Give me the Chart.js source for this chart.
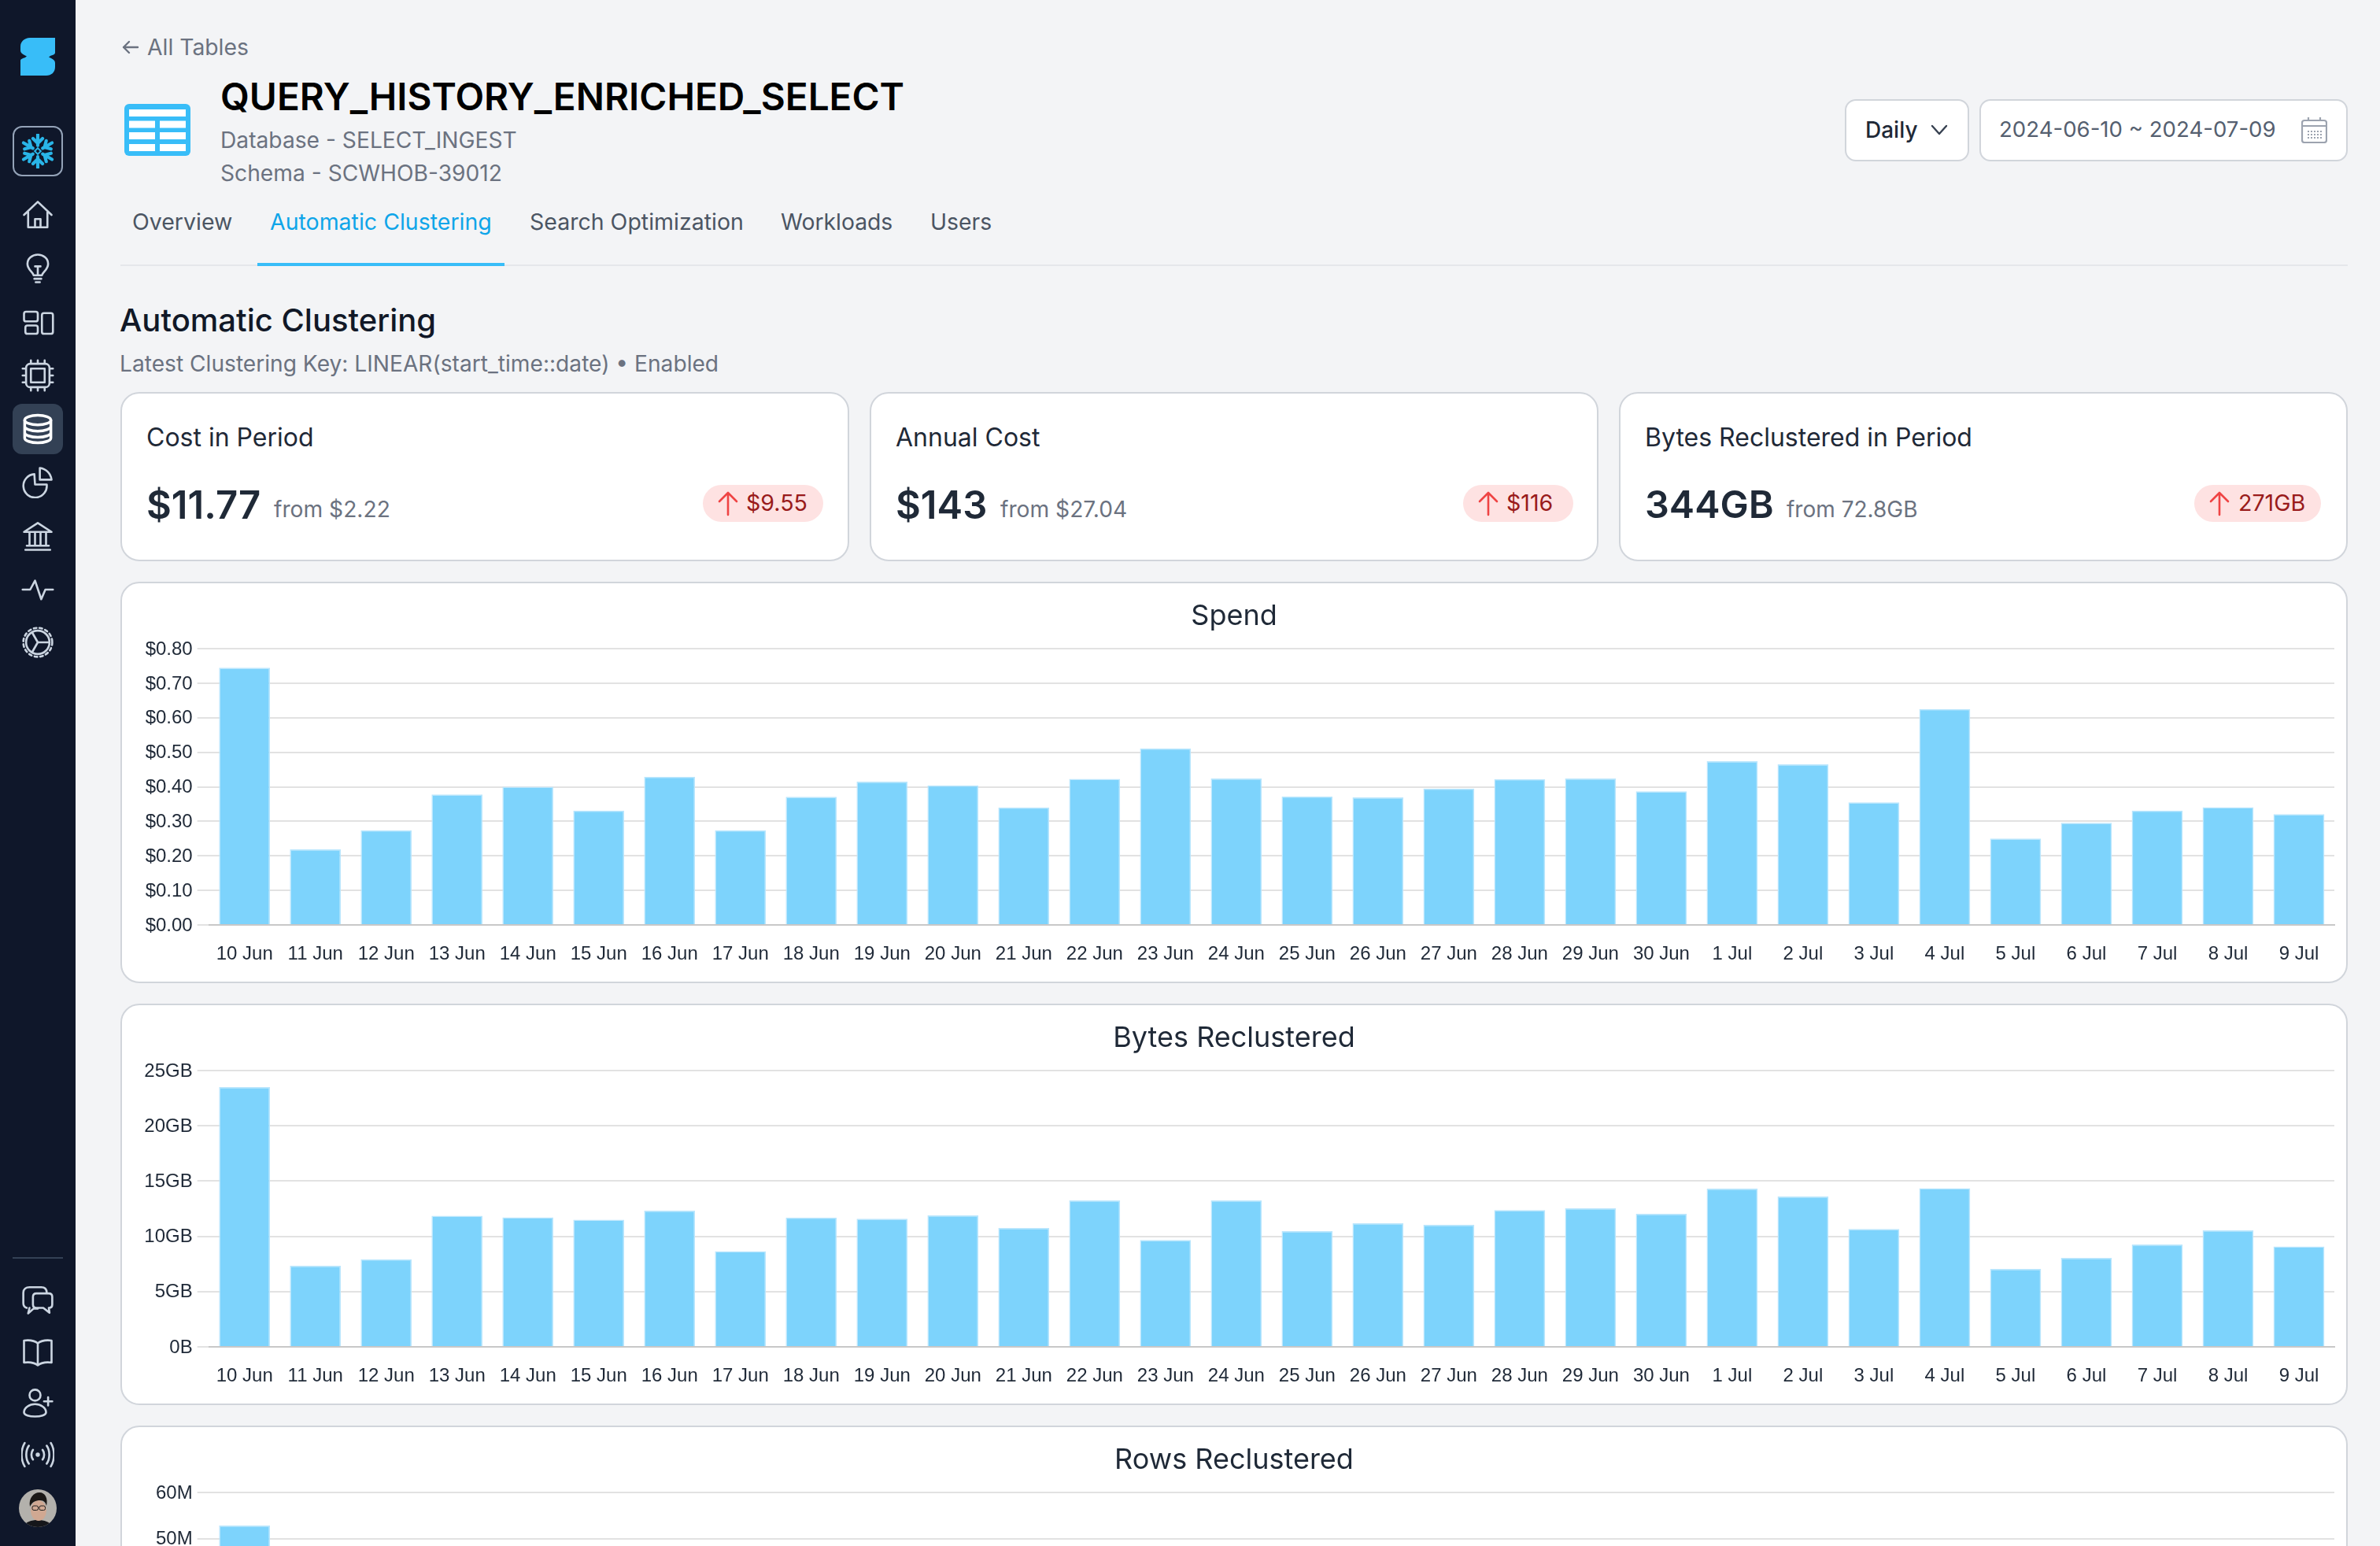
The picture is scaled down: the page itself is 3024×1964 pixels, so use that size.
<!DOCTYPE html>
<html><head><meta charset="utf-8">
<script src="https://cdn.jsdelivr.net/npm/chart.js@4"></script>
<style>
*{box-sizing:border-box}
html,body{margin:0;padding:0;width:3024px;height:1964px;overflow:hidden;background:#f3f4f6;font-family:Inter,sans-serif;-webkit-font-smoothing:antialiased}
.t{position:absolute;white-space:nowrap;line-height:1;transform:translateY(-50%)}
.box{position:absolute;background:#fff;border:2.5px solid #d1d5db}
.card{border-radius:24px}
#side{position:absolute;left:0;top:0;width:96px;height:1964px;background:#0f172a}
#side svg.i{position:absolute;left:27px;width:42px;height:42px;fill:none;stroke:#cbd5e1;stroke-width:1.5;stroke-linecap:round;stroke-linejoin:round}
.badge{position:absolute;top:616px;height:47px;background:#fee2e2;border-radius:24px}
.badge span{position:absolute;color:#991b1b;font-size:28.6px;line-height:47px;top:-1px;white-space:nowrap}
.badge svg{position:absolute;left:18px;top:7px;width:28px;height:33px;fill:none;stroke:#ef4444;stroke-width:2.6;stroke-linecap:round;stroke-linejoin:round}
canvas{position:absolute;left:153px}
</style></head><body>
<div id="side">
 <svg style="position:absolute;left:26px;top:48px" width="44" height="48" viewBox="0 0 44 48"><path fill="#38bdf8" d="M12 0H44V19C44 21 41 22 38 23L36 24.500L39 26C42 27.500 44 29 44 32V37C44 44 39 48 33 48H0V29C0 27 3 26 6 25L8 23.500L5 22C2 20.500 0 19 0 16V11C0 5 5 0 12 0Z"/></svg>
 <div style="position:absolute;left:16px;top:160px;width:64px;height:64px;border:2px solid #94a3b8;border-radius:12px"></div>
 <svg style="position:absolute;left:26px;top:170px" width="44" height="44" viewBox="-20 -20 40 40" fill="none" stroke="#29b5e8" stroke-linecap="round"><g id="arm"><path d="M0 -19V-6.500M-5.500 -14.500L0 -9L5.500 -14.500" stroke-width="3.800"/></g><use href="#arm" transform="rotate(60)"/><use href="#arm" transform="rotate(120)"/><use href="#arm" transform="rotate(180)"/><use href="#arm" transform="rotate(240)"/><use href="#arm" transform="rotate(300)"/><path d="M0 -3.500L3.500 0L0 3.500L-3.500 0Z" stroke-width="1.800"/></svg>
 <svg class="i" style="top:252px" viewBox="0 0 24 24"><path d="M2 12L12 2.500L22 12M5 10V21H19V10M10 21V15H14V21"/></svg>
 <svg class="i" style="top:320px" viewBox="0 0 24 24"><path d="M9 17C8.500 14.500 4.500 13 4.500 8.700C4.500 4.700 8 2 12 2S19.500 4.700 19.500 8.700C19.500 13 15.500 14.500 15 17ZM9.500 19.500H14.500M10.500 22H13.500M10 10.500H14M12 10.500V17"/></svg>
 <svg class="i" style="top:389px" viewBox="0 0 24 24"><rect x="2" y="4" width="10" height="7" rx="1.500"/><rect x="3" y="14" width="9" height="6" rx="1.500"/><rect x="15" y="5" width="8" height="15" rx="1.500"/></svg>
 <svg class="i" style="top:456px" viewBox="0 0 24 24"><rect x="3.500" y="3.500" width="17" height="17" rx="3"/><rect x="7" y="7" width="10" height="10"/><path d="M7 1V3M12 1V3M17 1V3M7 21V23M12 21V23M17 21V23M1 7H3M1 12H3M1 17H3M21 7H23M21 12H23M21 17H23"/></svg>
 <div style="position:absolute;left:16px;top:513px;width:64px;height:64px;background:#334155;border-radius:12px"></div>
 <svg class="i" style="top:524px;stroke:#fff;stroke-width:2" viewBox="0 0 24 24"><ellipse cx="12" cy="5.500" rx="9.500" ry="3.500"/><path d="M2.500 5.500V18.500C2.500 20.500 7 22 12 22S21.500 20.500 21.500 18.500V5.500M2.500 10C2.500 12 7 13.500 12 13.500S21.500 12 21.500 10M2.500 14.500C2.500 16.500 7 18 12 18S21.500 16.500 21.500 14.500"/></svg>
 <svg class="i" style="top:591px" viewBox="0 0 24 24"><path d="M9.500 6.500A8.500 8.500 0 1 0 18.500 14H10Z" /><path d="M13.500 2C18 2.500 21.500 6 22 10.500H13.500Z"/></svg>
 <svg class="i" style="top:660px" viewBox="0 0 24 24"><path d="M2 9L12 2.500L22 9ZM3 22H21M4 19H20M6 9.500V19M10 9.500V19M14 9.500V19M18 9.500V19"/></svg>
 <svg class="i" style="top:728px" viewBox="0 0 24 24"><path d="M1 12H6.500L10 5.500L14.500 19L17.500 12H23"/></svg>
 <svg class="i" style="top:795px" viewBox="0 0 24 24"><circle cx="12" cy="12" r="8.500"/><path d="M12 12L8 5M12 12L8 19M12 12H20.500"/><circle cx="12" cy="12" r="10.500" stroke-dasharray="2 2.200"/></svg>
 <div style="position:absolute;left:16px;top:1597px;width:64px;height:2px;background:#334155"></div>
 <svg class="i" style="top:1630px" viewBox="0 0 24 24"><path d="M6 18L5 22L9 18.500H12M4 18C2.500 17.500 1.500 16 1.500 14.500V7C1.500 4.500 3.500 3 6 3H14.500C17 3 18.500 4.500 18.500 7"/><path d="M11 7.500H20C21.500 7.500 22.500 8.500 22.500 10V15.500C22.500 17 21.500 18 20 18L20.500 21.500L16 18H11C9.500 18 8.500 17 8.500 15.500V10C8.500 8.500 9.500 7.500 11 7.500Z"/></svg>
 <svg class="i" style="top:1696px" viewBox="0 0 24 24"><path d="M12 6C9.500 4 6 3.500 2 4V20C6 19.500 9.500 20 12 22C14.500 20 18 19.500 22 20V4C18 3.500 14.500 4 12 6ZM12 6V22"/></svg>
 <svg class="i" style="top:1761px" viewBox="0 0 24 24"><circle cx="10" cy="6.500" r="4"/><path d="M2 19C2 15.500 6 13 10 13S18 15.500 18 19C18 21 14 22 10 22S2 21 2 19ZM19.500 8V14M16.500 11H22.500"/></svg>
 <svg class="i" style="top:1827px" viewBox="0 0 24 24"><circle cx="12" cy="12" r="0.800"/><path d="M8.500 8.500C7 10.500 7 13.500 8.500 15.500M15.500 8.500C17 10.500 17 13.500 15.500 15.500M5.500 5.500C3 9 3 15 5.500 18.500M18.500 5.500C21 9 21 15 18.500 18.500M2.500 3.500C-0.500 8.500 -0.500 15.500 2.500 20.500M21.500 3.500C24.500 8.500 24.500 15.500 21.500 20.500"/></svg>
 <svg style="position:absolute;left:24px;top:1892px" width="48" height="48" viewBox="0 0 48 48"><defs><clipPath id="av"><circle cx="24" cy="24" r="24"/></clipPath></defs><g clip-path="url(#av)"><rect width="48" height="48" fill="#b3b1ac"/><path d="M6 48C8 41 16 39 24 39S40 41 42 48Z" fill="#15161a"/><ellipse cx="25" cy="27" rx="10" ry="13" fill="#d0a892"/><path d="M14 22C12 11 19 4 26 4C34 4 37 12 35 21C34 17 32 14 27 14C21 14 17 16 14 22Z" fill="#1b1816"/><rect x="17" y="21" width="7.500" height="5.500" rx="2" fill="none" stroke="#222" stroke-width="1"/><rect x="26" y="21" width="7.500" height="5.500" rx="2" fill="none" stroke="#222" stroke-width="1"/></g></svg>
</div>

<svg style="position:absolute;left:155px;top:50px" width="22" height="20" viewBox="0 0 22 20" fill="none" stroke="#6b7280" stroke-width="2.400" stroke-linecap="round" stroke-linejoin="round"><path d="M20 10H2M9 3L2 10L9 17"/></svg>
<div class="t" style="left:187px;top:60px;font-size:28.3px;color:#6b7280">All Tables</div>
<svg style="position:absolute;left:158px;top:132px" width="84" height="66" viewBox="0 0 84 66"><rect width="84" height="66" rx="6" fill="#38bdf8"/><g fill="#fff"><rect x="6" y="7" width="72" height="9"/><rect x="6" y="21.500" width="33" height="9"/><rect x="45" y="21.500" width="33" height="9"/><rect x="6" y="36" width="33" height="9"/><rect x="45" y="36" width="33" height="9"/><rect x="6" y="51" width="33" height="9"/><rect x="45" y="51" width="33" height="9"/></g></svg>
<div class="t" style="left:280px;top:124px;font-size:47.700px;font-weight:600;color:#000">QUERY_HISTORY_ENRICHED_SELECT</div>
<div class="t" style="left:280px;top:178px;font-size:28.2px;color:#6b7280">Database - SELECT_INGEST</div>
<div class="t" style="left:280px;top:220px;font-size:28.2px;color:#6b7280">Schema - SCWHOB-39012</div>

<div class="box" style="left:2344px;top:126px;width:158px;height:79px;border-radius:14px"></div>
<div class="t" style="left:2370px;top:165px;font-size:28px;font-weight:500;color:#1f2937">Daily</div>
<svg style="position:absolute;left:2452px;top:157px" width="24" height="16" viewBox="0 0 24 16" fill="none" stroke="#374151" stroke-width="2.400" stroke-linecap="round" stroke-linejoin="round"><path d="M3 3L12 13L21 3"/></svg>
<div class="box" style="left:2515px;top:126px;width:468px;height:79px;border-radius:14px"></div>
<div class="t" style="left:2540px;top:165px;font-size:27.600px;color:#556070">2024-06-10 ~ 2024-07-09</div>
<svg style="position:absolute;left:2924px;top:149px" width="33" height="33" viewBox="0 0 33 33" fill="none" stroke="#9ca3af" stroke-width="2.200"><rect x="1" y="4" width="31" height="28" rx="3"/><path d="M1 11H32M9 0V5M24 0V5"/><path d="M8 18H26M8 22H26M8 26H26" stroke-dasharray="2 2" stroke-width="2"/></svg>

<div class="t" style="left:168px;top:282px;font-size:28.5px;color:#4b5563">Overview</div>
<div class="t" style="left:343px;top:282px;font-size:28.5px;color:#0ea5e9">Automatic Clustering</div>
<div class="t" style="left:673px;top:282px;font-size:28.5px;color:#4b5563">Search Optimization</div>
<div class="t" style="left:992px;top:282px;font-size:28.3px;color:#4b5563">Workloads</div>
<div class="t" style="left:1182px;top:282px;font-size:28.3px;color:#4b5563">Users</div>
<div style="position:absolute;left:153px;top:336px;width:2830px;height:2px;background:#e5e7eb"></div>
<div style="position:absolute;left:327px;top:334px;width:314px;height:4px;background:#38bdf8"></div>

<div class="t" style="left:152px;top:407px;font-size:40px;font-weight:500;color:#111827">Automatic Clustering</div>
<div class="t" style="left:152px;top:462px;font-size:28.15px;color:#6b7280">Latest Clustering Key: LINEAR(start_time::date) • Enabled</div>

<div class="box card" style="left:153px;top:498px;width:926px;height:215px"></div>
<div class="box card" style="left:1105px;top:498px;width:926px;height:215px"></div>
<div class="box card" style="left:2057px;top:498px;width:926px;height:215px"></div>

<div class="t" style="left:186px;top:556px;font-size:32px;color:#1f2937">Cost in Period</div>
<div class="t" style="left:186px;top:641px;font-size:49px;font-weight:600;color:#1f2937">$11.77</div>
<div class="t" style="left:348px;top:647px;font-size:28.2px;color:#6b7280">from $2.22</div>
<div class="badge" style="left:893px;width:153px"><svg viewBox="0 0 28 33"><path d="M14 31V3M3 14L14 3L25 14"/></svg><span style="left:55px">$9.55</span></div>

<div class="t" style="left:1138px;top:556px;font-size:32px;color:#1f2937">Annual Cost</div>
<div class="t" style="left:1138px;top:641px;font-size:49px;font-weight:600;color:#1f2937">$143</div>
<div class="t" style="left:1271px;top:647px;font-size:28.2px;color:#6b7280">from $27.04</div>
<div class="badge" style="left:1859px;width:140px"><svg viewBox="0 0 28 33"><path d="M14 31V3M3 14L14 3L25 14"/></svg><span style="left:55px">$116</span></div>

<div class="t" style="left:2090px;top:556px;font-size:32px;color:#1f2937">Bytes Reclustered in Period</div>
<div class="t" style="left:2090px;top:641px;font-size:48.500px;font-weight:600;color:#1f2937">344GB</div>
<div class="t" style="left:2270px;top:647px;font-size:28px;color:#6b7280">from 72.8GB</div>
<div class="badge" style="left:2788px;width:161px"><svg viewBox="0 0 28 33"><path d="M14 31V3M3 14L14 3L25 14"/></svg><span style="left:56px">271GB</span></div>

<div class="box card" style="left:153px;top:739px;width:2830px;height:510px"></div>
<div class="box card" style="left:153px;top:1275px;width:2830px;height:510px"></div>
<div class="box card" style="left:153px;top:1811px;width:2830px;height:510px"></div>
<canvas id="c1" width="2830" height="509" style="top:739px"></canvas>
<canvas id="c2" width="2830" height="509" style="top:1275px"></canvas>
<canvas id="c3" width="2830" height="509" style="top:1811px"></canvas>

<script>
const dayLabels = ["10 Jun","11 Jun","12 Jun","13 Jun","14 Jun","15 Jun","16 Jun","17 Jun","18 Jun","19 Jun","20 Jun","21 Jun","22 Jun","23 Jun","24 Jun","25 Jun","26 Jun","27 Jun","28 Jun","29 Jun","30 Jun","1 Jul","2 Jul","3 Jul","4 Jul","5 Jul","6 Jul","7 Jul","8 Jul","9 Jul"];
const spendValues = [0.745,0.219,0.274,0.378,0.400,0.331,0.429,0.274,0.371,0.415,0.404,0.340,0.423,0.511,0.424,0.372,0.369,0.395,0.422,0.424,0.387,0.474,0.465,0.355,0.625,0.250,0.296,0.331,0.341,0.321];
const bytesValues = [23.5,7.34,7.92,11.86,11.72,11.5,12.32,8.66,11.69,11.59,11.89,10.75,13.25,9.66,13.25,10.47,11.18,11.04,12.37,12.54,12.04,14.32,13.6,10.66,14.36,7.05,8.05,9.26,10.54,9.09];
// Only the first bar of this chart rises into the visible part of the page.
const rowsValues = [52.8,null,null,null,null,null,null,null,null,null,null,null,null,null,null,null,null,null,null,null,null,null,null,null,null,null,null,null,null,null];
const spendTicks = {max:0.8, step:0.1};
const bytesTicks = {max:25, step:5};
const rowsTicks = {max:60, step:10};

const fmtSpend = v => "$" + v.toFixed(2);
const fmtBytes = v => v === 0 ? "0B" : v + "GB";
const fmtRows = v => v === 0 ? "0" : v + "M";

function draw(id, title, values, ticks, fmt){
  new Chart(document.getElementById(id), {
    type: "bar",
    data: { labels: dayLabels, datasets: [{ data: values, backgroundColor: "#7dd3fc", borderColor: "#bae6fd", borderWidth: 1.5, categoryPercentage: 0.8, barPercentage: 0.9 }] },
    options: {
      responsive: false, animation: false, devicePixelRatio: 1,
      layout: { padding: { left: 17, right: 17 } },
      plugins: {
        legend: { display: false }, tooltip: { enabled: false },
        title: { display: true, text: title, color: "#1f2937", font: { family: "Inter", size: 36, weight: 400, lineHeight: 1.2 }, padding: { top: 22.4, bottom: 19.4 } }
      },
      scales: {
        x: {
          afterFit: s => { s.height = 73; },
          grid: { display: false, drawTicks: false },
          border: { display: true, color: "#c8c8c8", width: 2, z: 1 },
          ticks: { autoSkip: false, maxRotation: 0, minRotation: 0, padding: 23, color: "#1f2937", font: { family: "Liberation Sans", size: 24 } }
        },
        y: {
          min: 0, max: ticks.max,
          afterFit: s => { s.width = 95.7; },
          border: { display: false },
          grid: { color: "#e2e2e2", lineWidth: 2, tickLength: 15, tickColor: "#e2e2e2" },
          ticks: { stepSize: ticks.step, padding: 6, labelOffset: 1, color: "#1f2937", font: { family: "Liberation Sans", size: 24 }, callback: fmt }
        }
      }
    }
  });
}
draw("c1", "Spend", spendValues, spendTicks, fmtSpend);
draw("c2", "Bytes Reclustered", bytesValues, bytesTicks, fmtBytes);
draw("c3", "Rows Reclustered", rowsValues, rowsTicks, fmtRows);
</script>
</body></html>
